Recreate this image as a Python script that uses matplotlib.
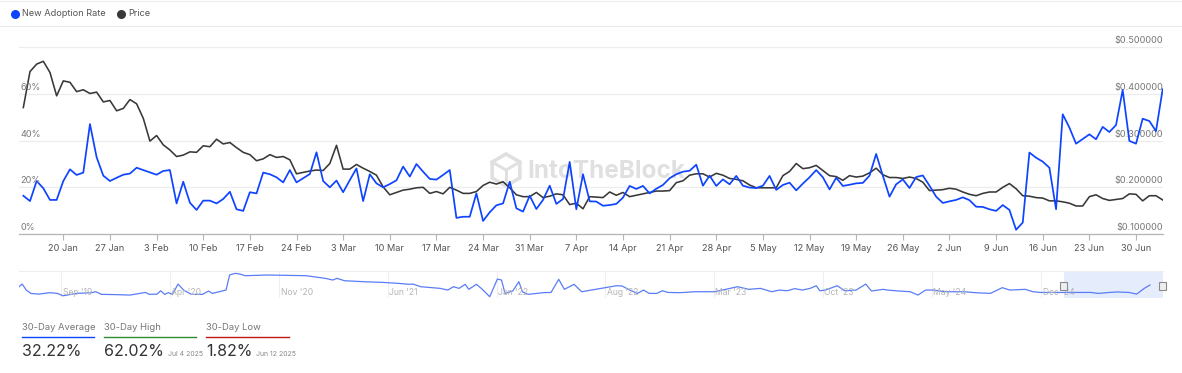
import datetime as dt
import numpy as np
import matplotlib
matplotlib.use("Agg")
import matplotlib.pyplot as plt
import matplotlib.dates as mdates
import matplotlib.transforms as mtransforms
from matplotlib.lines import Line2D
from matplotlib.patches import Rectangle, Polygon

plt.rcParams['font.family'] = ['Inter', 'DejaVu Sans']

# daily values, 14 Jan 2025 .. 4 Jul 2025
start_day = dt.date(2025, 1, 14)
adoption_rate = [
    16.4, 14.1, 22.7, 19.6, 14.6, 14.6, 22.7, 27.7, 25.3, 26.3,
    47.1, 32.9, 25.0, 22.7, 24.1, 25.4, 25.9, 28.4, 27.4, 26.4,
    25.4, 27.0, 27.4, 13.1, 22.4, 13.4, 10.3, 14.3, 14.3, 13.1,
    15.0, 18.1, 10.6, 9.9, 17.9, 17.4, 26.3, 25.6, 24.3, 22.1,
    27.4, 22.1, 23.9, 25.7, 35.0, 22.7, 20.0, 22.9, 17.9, 23.1,
    28.1, 14.1, 25.6, 21.7, 20.0, 21.4, 23.0, 28.9, 24.6, 30.0,
    26.7, 23.6, 23.3, 25.3, 27.4, 6.9, 7.4, 7.4, 17.4, 5.6,
    9.3, 12.3, 13.1, 22.4, 11.0, 9.6, 16.4, 10.7, 14.6, 20.7,
    12.9, 15.0, 30.9, 10.6, 25.6, 14.0, 13.9, 12.1, 12.4, 12.9,
    15.6, 20.6, 19.3, 20.6, 17.4, 19.4, 21.0, 23.9, 25.6, 26.7,
    27.1, 29.7, 20.7, 25.0, 20.6, 23.4, 21.3, 24.9, 20.7, 19.9,
    19.7, 20.7, 24.9, 18.9, 21.0, 22.0, 18.7, 21.6, 24.3, 27.4,
    24.3, 19.1, 24.1, 20.6, 21.1, 21.7, 21.9, 25.0, 34.3, 25.0,
    16.0, 21.3, 23.4, 19.7, 24.4, 25.1, 20.7, 16.0, 13.3, 14.0,
    14.6, 15.7, 14.5, 11.7, 11.6, 10.6, 9.9, 12.4, 10.3, 1.82,
    4.9, 34.9, 32.7, 31.0, 28.4, 10.6, 51.3, 45.6, 38.7, 40.7,
    42.7, 40.6, 45.9, 43.7, 46.7, 61.7, 39.9, 38.7, 49.4, 48.4,
    44.1, 62.02,
]
price = [
    0.371, 0.448, 0.464, 0.470, 0.446, 0.396, 0.428, 0.425, 0.405, 0.409,
    0.401, 0.404, 0.383, 0.386, 0.364, 0.369, 0.388, 0.379, 0.348, 0.299,
    0.311, 0.291, 0.280, 0.266, 0.269, 0.276, 0.275, 0.289, 0.287, 0.303,
    0.293, 0.296, 0.285, 0.275, 0.270, 0.257, 0.261, 0.270, 0.264, 0.266,
    0.259, 0.229, 0.232, 0.235, 0.237, 0.236, 0.251, 0.290, 0.239, 0.239,
    0.249, 0.241, 0.234, 0.226, 0.201, 0.184, 0.189, 0.194, 0.196, 0.199,
    0.200, 0.187, 0.191, 0.186, 0.200, 0.194, 0.187, 0.187, 0.191, 0.204,
    0.211, 0.207, 0.212, 0.199, 0.184, 0.180, 0.180, 0.189, 0.178, 0.181,
    0.186, 0.184, 0.163, 0.166, 0.154, 0.180, 0.179, 0.178, 0.190, 0.183,
    0.189, 0.180, 0.183, 0.186, 0.189, 0.192, 0.192, 0.193, 0.210, 0.214,
    0.226, 0.229, 0.229, 0.222, 0.230, 0.226, 0.219, 0.217, 0.214, 0.205,
    0.199, 0.199, 0.199, 0.199, 0.225, 0.234, 0.251, 0.240, 0.242, 0.247,
    0.236, 0.225, 0.223, 0.215, 0.225, 0.222, 0.224, 0.231, 0.241, 0.227,
    0.221, 0.221, 0.219, 0.222, 0.219, 0.211, 0.193, 0.194, 0.195, 0.198,
    0.196, 0.190, 0.185, 0.182, 0.187, 0.190, 0.190, 0.200, 0.208, 0.197,
    0.182, 0.181, 0.178, 0.177, 0.171, 0.171, 0.169, 0.166, 0.160, 0.160,
    0.180, 0.184, 0.176, 0.172, 0.174, 0.176, 0.186, 0.185, 0.171, 0.182,
    0.182, 0.173,
]
pct_ticks = [0, 20, 40, 60]
price_ticks = [0.1, 0.2, 0.3, 0.4, 0.5]

# overview (navigator) series: days after 1 Sep 2019, rate in %
nav_base = dt.date(2019, 9, 1)
nav_days = [-82, -76, -68, -59, -44, -22, -7, 4, 30, 60, 68, 79, 105, 135, 165, 173,
            188, 195, 203, 210, 218, 229, 240, 255, 277, 289, 296, 323, 330, 341, 352,
            360, 405, 480, 517, 532, 540, 555, 592, 630, 660, 682, 689, 704, 742, 757,
            768, 779, 791, 798, 813, 824, 839, 854, 862, 869, 884, 896, 903, 914, 944,
            959, 974, 985, 1004, 1019, 1046, 1068, 1087, 1098, 1113, 1128, 1140, 1151,
            1166, 1177, 1188, 1211, 1241, 1279, 1301, 1324, 1346, 1369, 1391, 1406,
            1421, 1436, 1451, 1466, 1478, 1485, 1496, 1519, 1534, 1556, 1575, 1586,
            1609, 1617, 1639, 1662, 1677, 1692, 1707, 1729, 1752, 1767, 1789, 1819,
            1842, 1857, 1887, 1902, 1917, 1940, 1959, 1985, 2015, 2030, 2052, 2067,
            2090, 2105, 2120, 2131]
nav_vals = [45, 56, 31, 17, 14, 20, 17, 7, 17, 20, 24, 13, 12, 10, 21, 13,
            14, 28, 13, 20, 13, 56, 31, 13, 13, 27, 17, 31, 94, 101, 97,
            91, 94, 91, 80, 73, 80, 70, 66, 63, 59, 55, 56, 45, 38, 31,
            45, 38, 55, 34, 55, 35, 3, 77, 73, 17, 27, 66, 24, 13, 20,
            21, 76, 34, 55, 24, 34, 42, 49, 48, 31, 17, 31, 17,
            17, 28, 21, 20, 24, 24, 34, 45, 34, 38, 24, 31,
            28, 37, 31, 38, 49, 28, 31, 49, 28, 31, 56, 27,
            34, 31, 27, 24, 10, 31, 31, 24, 24, 24, 20, 17,
            41, 31, 34, 24, 21, 21, 21, 21, 21, 17, 21, 23,
            21, 14, 38, 52]
nav_ticks = [dt.date(2019, 9, 1), dt.date(2020, 4, 1), dt.date(2020, 11, 1),
             dt.date(2021, 6, 1), dt.date(2022, 1, 1), dt.date(2022, 8, 1),
             dt.date(2023, 3, 1), dt.date(2023, 10, 1), dt.date(2024, 5, 1),
             dt.date(2024, 12, 1)]
nav_labels = ["Sep '19", "Apr '20", "Nov '20", "Jun '21", "Jan '22", "Aug '22",
              "Mar '23", "Oct '23", "May '24", "Dec '24"]

stat_titles = ["30-Day Average", "30-Day High", "30-Day Low"]
stat_values = ["32.22%", "62.02%", "1.82%"]
stat_dates = ["", "Jul 4 2025", "Jun 12 2025"]

BLUE = '#0f44ff'
DARK = '#383838'
W, H = 1182, 373


def fx(x):
    return x / W


def fy(y):
    return 1 - y / H


dates = [start_day + dt.timedelta(days=i) for i in range(len(adoption_rate))]

fig = plt.figure(figsize=(W / 100, H / 100), dpi=100)
fig.patch.set_facecolor('white')

# header: legend + separators
fig.add_artist(Line2D([0, 1], [fy(26), fy(26)], color='#e9e9e9', lw=0.8))
fig.add_artist(Line2D([0, 1], [fy(0.5), fy(0.5)], color='#eeeeee', lw=0.8))
fig.add_artist(Line2D([fx(15)], [fy(14)], marker='o', ms=5.5, color=BLUE, lw=0))
fig.text(fx(22), fy(14), "New Adoption Rate", fontsize=6.6, color='#555555', va='center')
fig.add_artist(Line2D([fx(121)], [fy(14)], marker='o', ms=5.5, color=DARK, lw=0))
fig.text(fx(128), fy(14), "Price", fontsize=6.6, color='#555555', va='center')

# main chart
ax = fig.add_axes([fx(19), fy(234), fx(1163 - 19), (234 - 47.3) / H])
ax2 = ax.twinx()
ax.set_zorder(ax2.get_zorder() + 1)
ax.patch.set_visible(False)

ax2.plot(dates, price, color=DARK, lw=1.15, solid_joinstyle='round')
ax.plot(dates, adoption_rate, color=BLUE, lw=1.25, solid_joinstyle='round')

ax.set_xlim(mdates.date2num(dates[0]) - 0.65, mdates.date2num(dates[-1]) + 0.05)
ax.set_ylim(0, 80)
ax2.set_ylim(0.1, 0.5)
ax.set_yticks([])
ax2.set_yticks(price_ticks)
ax2.set_yticklabels([])
ax2.tick_params(axis='y', length=0)
ax2.grid(axis='y', color='#ececec', lw=0.9)
for a in (ax, ax2):
    for s in a.spines.values():
        s.set_visible(False)
ax.spines['bottom'].set_visible(True)
ax.spines['bottom'].set_color('#b5b5b5')
ax.spines['bottom'].set_linewidth(0.9)

week_ticks = [dt.date(2025, 1, 20) + dt.timedelta(days=7 * k) for k in range(24)]
ax.set_xticks(week_ticks)
ax.set_xticklabels([f"{d.day} {d.strftime('%b')}" for d in week_ticks])
ax.tick_params(axis='x', length=4, width=0.8, color='#b5b5b5', labelsize=6.6,
               labelcolor='#555555', pad=3)

up = mtransforms.offset_copy(ax.get_yaxis_transform(), fig=fig, x=0, y=2, units='dots')
for v in pct_ticks:
    ax.text(0.001, v, f"{v}%", transform=up, fontsize=6.6, color='#777777',
            ha='left', va='bottom')
up2 = mtransforms.offset_copy(ax2.get_yaxis_transform(), fig=fig, x=0, y=2, units='dots')
for v in price_ticks:
    ax2.text(1.0, v, f"${v:.6f}", transform=up2, fontsize=6.6, color='#777777',
             ha='right', va='bottom')

# watermark: cube logo + name
cx, cy, r = 506, 170, 16
ang = np.deg2rad(np.arange(6) * 60 + 90)
hex_pts = [(fx(cx + r * np.cos(a)), fy(cy - r * np.sin(a))) for a in ang]
fig.add_artist(Polygon(hex_pts, closed=True, fill=False, ec='#e0e0e0', lw=2.6,
                       transform=fig.transFigure, zorder=-5))
for k in (1, 3, 5):
    fig.add_artist(Line2D([fx(cx), hex_pts[k][0]], [fy(cy), hex_pts[k][1]],
                          color='#e0e0e0', lw=2.2, zorder=-5))
fig.text(fx(527), fy(172), "IntoTheBlock", fontsize=17.5, fontweight='bold',
         color='#e0e0e0', va='center', ha='left', zorder=-5)

# navigator
nav = fig.add_axes([fx(19), fy(297.7), fx(1163 - 19), 27 / H])
nav_dates = [nav_base + dt.timedelta(days=d) for d in nav_days]
nav.plot(nav_dates, nav_vals, color='#5a7df7', lw=0.9)
left = mdates.date2num(nav_base) - 82.2
right = mdates.date2num(nav_base) + 2156.6
nav.set_xlim(left, right)
nav.set_ylim(-1, 112)
nav.axvspan(mdates.date2num(dt.date(2025, 1, 14)), right, color='#dfe9fd', alpha=0.8, lw=0)
for xv in (mdates.date2num(dt.date(2025, 1, 14)), right - 1):
    nav.add_patch(Rectangle((xv - 6, 0.3), 12, 0.3, transform=nav.get_xaxis_transform(),
                            fc='#eeeeee', ec='#8a8a8a', lw=0.8, zorder=5, clip_on=False))
nav.set_xticks(nav_ticks)
nav.set_xticklabels([])
nav.tick_params(length=0)
nav.set_yticks([])
nav.grid(axis='x', color='#efefef', lw=0.8)
for s in nav.spines.values():
    s.set_visible(False)
nav.spines['top'].set_visible(True)
nav.spines['top'].set_color('#eeeeee')
for d, lab in zip(nav_ticks, nav_labels):
    nav.text(mdates.date2num(d) + 3, 0.2, lab, transform=nav.get_xaxis_transform(),
             fontsize=6.2, color='#b5b5b5', va='center', ha='left')

# 30-day stats
stat_x = [22, 104, 206]
stat_w = [72, 92, 83]
stat_col = [BLUE, '#2e8b2e', '#c01818']
for x0, w, c, t, v, d in zip(stat_x, stat_w, stat_col, stat_titles, stat_values, stat_dates):
    fig.text(fx(x0), fy(327), t, fontsize=6.8, color='#777777', va='center')
    fig.add_artist(Line2D([fx(x0), fx(x0 + w)], [fy(337), fy(337)], color=c, lw=1.0))
    tv = fig.text(fx(x0), fy(352), v, fontsize=11.5, color='#333333', va='center')
    if d:
        fig.canvas.draw()
        bb = tv.get_window_extent()
        fig.text((bb.x1 + 4) / W, fy(354), d, fontsize=5, color='#888888', va='center')

fig.savefig('out.png', dpi=100)
